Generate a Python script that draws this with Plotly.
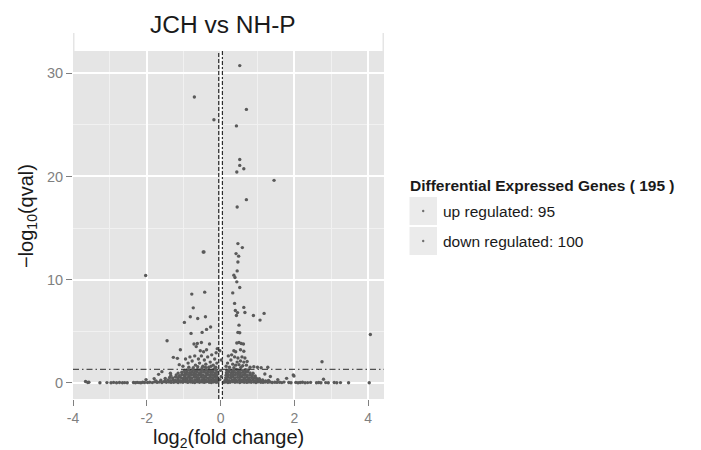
import plotly.graph_objects as go

# ---------------- data ----------------
# dense non-significant mass, left side (log2 fold change < 0)
left_a_x = [-1.98,-1.92,-1.85,-1.79,-1.72,-1.66,-1.59,-1.53,-1.47,-1.40,-1.34,-1.27,-1.21,-1.15,-1.08,-1.02,-0.95,-0.89,-0.82,-0.76,-0.70,-0.63,-0.57,-0.50,-0.44,-0.38,-0.31,-0.25,-0.19,-0.12,-0.07]
left_a_y = [0.02,0.05,0.01,0.08,0.03,0.06,0.02,0.09,0.04,0.07,0.03,0.05,0.08,0.02,0.06,0.04,0.09,0.03,0.07,0.05,0.02,0.08,0.04,0.06,0.03,0.09,0.05,0.02,0.07,0.04,0.06]
left_b_x = [-1.75,-1.62,-1.50,-1.42,-1.35,-1.28,-1.22,-1.15,-1.09,-1.02,-0.96,-0.90,-0.83,-0.77,-0.70,-0.64,-0.58,-0.51,-0.45,-0.39,-0.32,-0.26,-0.20,-0.14,-0.08]
left_b_y = [0.18,0.24,0.21,0.27,0.19,0.26,0.22,0.29,0.20,0.25,0.31,0.23,0.28,0.19,0.26,0.30,0.22,0.27,0.24,0.29,0.21,0.26,0.23,0.28,0.25]
left_c_x = [-1.50,-1.38,-1.30,-1.22,-1.16,-1.09,-1.03,-0.97,-0.90,-0.84,-0.78,-0.71,-0.65,-0.59,-0.52,-0.46,-0.40,-0.33,-0.27,-0.21,-0.15,-0.09]
left_c_y = [0.42,0.51,0.46,0.55,0.48,0.53,0.44,0.57,0.49,0.52,0.46,0.55,0.50,0.47,0.54,0.49,0.56,0.45,0.52,0.48,0.55,0.50]
left_d_x = [-1.35,-1.20,-1.12,-1.05,-0.98,-0.92,-0.86,-0.79,-0.73,-0.67,-0.60,-0.54,-0.48,-0.41,-0.35,-0.29,-0.22,-0.16,-0.10]
left_d_y = [0.71,0.76,0.68,0.79,0.73,0.81,0.70,0.77,0.74,0.80,0.72,0.78,0.75,0.69,0.79,0.73,0.77,0.71,0.76]
left_e_x = [-1.15,-1.05,-0.97,-0.91,-0.84,-0.78,-0.72,-0.65,-0.59,-0.53,-0.46,-0.40,-0.34,-0.27,-0.21,-0.15,-0.10]
left_e_y = [0.93,1.01,0.97,1.04,0.95,1.02,0.98,1.06,0.94,1.00,1.05,0.96,1.03,0.99,1.04,0.95,1.01]
left_f_x = [-0.98,-0.90,-0.83,-0.76,-0.70,-0.63,-0.57,-0.51,-0.44,-0.38,-0.31,-0.25,-0.19,-0.12]
left_f_y = [1.18,1.24,1.21,1.27,1.19,1.25,1.22,1.28,1.20,1.26,1.23,1.19,1.27,1.22]

# dense non-significant mass, right side (log2 fold change > 0)
right_a_x = [0.08,0.14,0.20,0.26,0.33,0.39,0.45,0.52,0.58,0.64,0.71,0.77,0.83,0.90,0.96,1.02,1.09,1.15,1.21,1.28,1.34,1.40,1.47,1.53]
right_a_y = [0.03,0.07,0.02,0.05,0.09,0.04,0.06,0.02,0.08,0.05,0.03,0.07,0.04,0.06,0.02,0.08,0.05,0.03,0.06,0.04,0.07,0.02,0.05,0.03]
right_b_x = [0.12,0.18,0.24,0.31,0.37,0.43,0.50,0.56,0.62,0.69,0.75,0.81,0.88,0.94,1.00,1.07,1.14,1.22,1.30]
right_b_y = [0.22,0.27,0.20,0.25,0.29,0.23,0.26,0.21,0.28,0.24,0.30,0.22,0.27,0.19,0.25,0.21,0.26,0.18,0.23]
right_c_x = [0.14,0.20,0.27,0.33,0.39,0.46,0.52,0.58,0.65,0.71,0.77,0.84,0.90,0.97,1.05]
right_c_y = [0.47,0.53,0.49,0.55,0.46,0.52,0.50,0.56,0.48,0.54,0.45,0.51,0.47,0.43,0.40]
right_d_x = [0.15,0.21,0.28,0.34,0.40,0.47,0.53,0.60,0.66,0.72,0.79,0.86,0.94]
right_d_y = [0.73,0.78,0.71,0.77,0.74,0.80,0.72,0.76,0.79,0.70,0.75,0.71,0.66]
right_e_x = [0.16,0.22,0.29,0.35,0.41,0.48,0.54,0.61,0.67,0.73,0.80,0.88]
right_e_y = [0.97,1.03,0.95,1.01,0.98,1.05,0.96,1.02,0.99,1.04,0.94,0.92]
right_f_x = [0.17,0.24,0.30,0.36,0.43,0.49,0.55,0.62,0.68,0.75]
right_f_y = [1.21,1.26,1.19,1.24,1.28,1.22,1.25,1.20,1.27,1.23]

# sparse non-significant genes far from zero
far_x = [-3.66,-3.60,-3.57,-3.27,-3.08,-2.97,-2.90,-2.82,-2.74,-2.66,
         -2.60,-2.53,-2.36,-2.31,-2.26,-2.21,-2.16,-2.11,-2.06,
         -1.68,-1.59,-1.36,-1.80,-2.02,
         1.60,1.66,1.72,1.79,1.85,1.91,1.97,1.99,2.04,2.10,
         2.16,2.22,2.29,2.36,2.44,2.60,2.66,2.72,2.79,2.85,
         2.92,3.08,3.15,3.25,3.47,4.03,
         1.35,1.20,1.55,0.02,-0.02,0.00]
far_y = [0.12,0.02,0.05,0.00,0.01,0.00,0.03,0.00,0.02,0.00,
         0.01,0.00,0.02,0.00,0.03,0.01,0.00,0.04,0.02,
         0.81,1.07,0.91,0.40,0.30,
         0.04,0.01,0.06,0.42,0.02,0.00,0.74,0.65,0.03,0.00,
         0.02,0.05,0.00,0.01,0.03,0.00,0.02,0.00,0.33,0.01,
         0.00,0.02,0.00,0.01,0.00,0.00,
         0.60,0.85,0.30,0.60,0.30,1.20]

# significant, down regulated
down_x = [-2.03,-0.71,-0.18,-0.47,-0.45,-0.78,-0.43,-0.74,-0.82,-0.62,-0.41,-0.98,-0.27,-0.38,-0.50,-0.80,-1.45,-1.09,-1.28,-1.17,-0.52,-0.72,-0.66,-0.63,-0.30,-0.55,-0.46,-0.38,-0.09,-0.12,
          -0.95,-0.88,-0.83,-0.77,-0.70,-0.68,-0.60,-0.57,-0.52,-0.48,-0.44,-0.40,-0.35,-0.32,-0.28,-0.24,-0.20,-0.16,-0.13,-0.10,
          -0.86,-0.74,-0.62,-0.50,-0.41,-0.26,-0.15,-1.02,-1.12,-0.02]
down_y = [10.40,27.70,25.50,12.68,12.68,8.59,8.78,7.26,6.39,6.23,6.39,5.85,5.40,5.17,4.88,4.78,4.07,3.20,2.46,2.36,3.90,3.75,3.50,3.80,3.75,3.10,3.00,3.20,3.30,2.90,
          2.30,1.90,2.50,2.10,2.60,1.70,2.30,1.90,2.60,1.60,2.20,1.80,2.50,1.50,2.00,2.70,1.70,2.30,1.50,1.90,
          1.50,1.45,1.55,1.45,1.50,1.60,1.45,1.60,1.75,3.10]

# significant, up regulated
up_x = [0.52,0.70,0.43,0.52,0.52,0.63,0.44,1.45,0.70,0.45,0.47,0.59,0.42,0.49,0.47,0.45,0.36,0.39,0.44,0.52,0.33,0.38,0.63,0.40,0.46,0.43,0.66,1.18,0.89,1.07,
        0.50,0.47,0.52,4.06,2.75,0.44,0.50,0.56,0.62,0.36,0.41,0.54,0.63,0.30,0.38,0.47,0.58,0.66,0.28,0.45,
        0.54,0.63,0.72,0.33,0.41,0.50,0.60,0.70,0.24,0.36,0.55,0.80,0.90,1.00,1.10,1.28,0.19,0.21,0.15,0.02]
up_y = [30.75,26.50,24.90,21.65,21.07,20.75,20.43,19.62,17.75,17.04,13.49,13.10,12.52,12.27,11.71,10.84,10.43,10.20,9.78,9.23,8.71,7.69,7.30,7.00,6.80,6.52,6.81,6.72,6.52,6.07,
        5.58,4.88,4.85,4.68,2.03,3.85,3.90,3.80,3.75,3.10,3.00,3.20,3.05,2.70,2.50,2.40,2.50,2.40,2.20,2.00,
        2.10,2.00,2.05,1.80,1.70,1.75,1.65,1.70,1.50,1.45,1.50,1.50,1.55,1.50,1.45,1.50,1.90,2.60,1.60,2.20]

x_ticks = [-4, -2, 0, 2, 4]
x_tick_text = ["-4", "-2", "0", "2", "4"]
y_ticks = [0, 10, 20, 30]
q_threshold = 1.3          # -log10(0.05)
fc_lines = [-0.05, 0.05]

title_text = "JCH vs NH-P"
x_title = "log<sub>2</sub>(fold change)"
y_title = "\u2212log<sub>10</sub>(qval)"
legend_title = "Differential Expressed Genes ( 195 )"
legend_labels = ["up regulated: 95", "down regulated: 100"]

# ---------------- figure ----------------
FONT = "Liberation Sans, Arial, Helvetica, sans-serif"
PT = "#5a5a5a"
OFF = 8                      # page body margin of the html page
W, H = 701 - OFF, 450 - OFF
L, T = 73 - OFF, 33 - OFF    # panel left / top in figure pixels
R, B = W - (384 - OFF), H - (399 - OFF)
PW, PH = W - L - R, H - T - B


def px_x(p):
    """page pixel (reference picture) -> paper x"""
    return (p - OFF - L) / PW


def px_y(p):
    """page pixel (reference picture) -> paper y"""
    return (H - B - (p - OFF)) / PH


ns_x = (left_a_x + left_b_x + left_c_x + left_d_x + left_e_x + left_f_x +
        right_a_x + right_b_x + right_c_x + right_d_x + right_e_x + right_f_x + far_x)
ns_y = (left_a_y + left_b_y + left_c_y + left_d_y + left_e_y + left_f_y +
        right_a_y + right_b_y + right_c_y + right_d_y + right_e_y + right_f_y + far_y)

fig = go.Figure()
for xs, ys, nm in [(ns_x, ns_y, "not significant"),
                   (down_x, down_y, legend_labels[1]),
                   (up_x, up_y, legend_labels[0])]:
    fig.add_trace(go.Scatter(x=xs, y=ys, mode="markers", name=nm, showlegend=False,
                             marker=dict(size=3.4, color=PT, line=dict(width=0))))

fig.update_layout(
    width=W, height=H, autosize=False,
    margin=dict(l=L, r=R, t=T, b=B, pad=0, autoexpand=False),
    paper_bgcolor="white", plot_bgcolor="#e5e5e5",
    font=dict(family=FONT, color="#1a1a1a"),
    showlegend=False,
)

fig.update_xaxes(
    range=[-4.0, 4.43], tickvals=x_ticks, ticktext=x_tick_text, automargin=False,
    showgrid=True, gridcolor="white", gridwidth=1.6, zeroline=False, showline=False,
    ticks="outside", ticklen=6, tickwidth=1.3, tickcolor="#7f7f7f",
    tickfont=dict(size=14, color="#7f7f7f", family=FONT),
    minor=dict(tickvals=[-3, -1, 1, 3], showgrid=True, gridcolor="#f1f1f1", gridwidth=0.8, ticks=""),
)
fig.update_yaxes(
    range=[-1.58, 33.91], tickvals=y_ticks, automargin=False,
    showgrid=True, gridcolor="white", gridwidth=1.6, zeroline=False, showline=False,
    ticks="outside", ticklen=6, tickwidth=1.3, tickcolor="#7f7f7f",
    tickfont=dict(size=14.5, color="#7f7f7f", family=FONT),
    minor=dict(tickvals=[5, 15, 25], showgrid=True, gridcolor="#f1f1f1", gridwidth=0.8, ticks=""),
)

shapes = []
# horizontal q-value threshold
shapes.append(dict(type="line", xref="paper", yref="y", x0=0, x1=1, y0=q_threshold, y1=q_threshold,
                   line=dict(color="#2b2b2b", width=1, dash="6px,3px,1.5px,3px")))
# vertical fold-change lines
shapes.append(dict(type="line", xref="x", yref="paper", x0=fc_lines[0], x1=fc_lines[0], y0=0, y1=1,
                   line=dict(color="#2b2b2b", width=1.2, dash="4px,2px")))
shapes.append(dict(type="line", xref="x", yref="paper", x0=fc_lines[1], x1=fc_lines[1], y0=0, y1=1,
                   line=dict(color="#2b2b2b", width=1.2, dash="2px,2px,4px,2px")))
# white strip at top of panel
shapes.append(dict(type="rect", xref="paper", yref="paper", x0=px_x(74.5), x1=px_x(382.5),
                   y0=px_y(51), y1=1.0, fillcolor="white", line=dict(width=0), layer="above"))
# legend key boxes and dots
for top in (197, 227):
    shapes.append(dict(type="rect", xref="paper", yref="paper", x0=px_x(409.5), x1=px_x(437),
                       y0=px_y(top + 28), y1=px_y(top), fillcolor="#ebebeb", line=dict(width=0)))
    cy = top + 14
    shapes.append(dict(type="circle", xref="paper", yref="paper", x0=px_x(422), x1=px_x(424.4),
                       y0=px_y(cy + 1.2), y1=px_y(cy - 1.2), fillcolor="#707070", line=dict(width=0)))
fig.update_layout(shapes=shapes)

annotations = [
    dict(text=title_text, xref="paper", yref="paper", x=px_x(222.5), y=px_y(24.3),
         xanchor="center", yanchor="middle", showarrow=False,
         font=dict(size=24.5, color="#1a1a1a", family=FONT)),
    dict(text=x_title, xref="paper", yref="paper", x=px_x(228.5), y=px_y(438.5),
         xanchor="center", yanchor="middle", showarrow=False,
         font=dict(size=20, color="#1a1a1a", family=FONT)),
    dict(text=y_title, xref="paper", yref="paper", x=px_x(27), y=px_y(216),
         xanchor="center", yanchor="middle", showarrow=False, textangle=-90,
         font=dict(size=20, color="#1a1a1a", family=FONT)),
    dict(text="<b>" + legend_title + "</b>", xref="paper", yref="paper", x=px_x(408), y=px_y(185),
         xanchor="left", yanchor="middle", showarrow=False,
         font=dict(size=15.5, color="#1a1a1a", family=FONT)),
]
for lab, cy in zip(legend_labels, (211, 241)):
    annotations.append(dict(text=lab, xref="paper", yref="paper", x=px_x(441), y=px_y(cy),
                            xanchor="left", yanchor="middle", showarrow=False,
                            font=dict(size=15.5, color="#1a1a1a", family=FONT)))
fig.update_layout(annotations=annotations)

fig.write_html("out.html")
